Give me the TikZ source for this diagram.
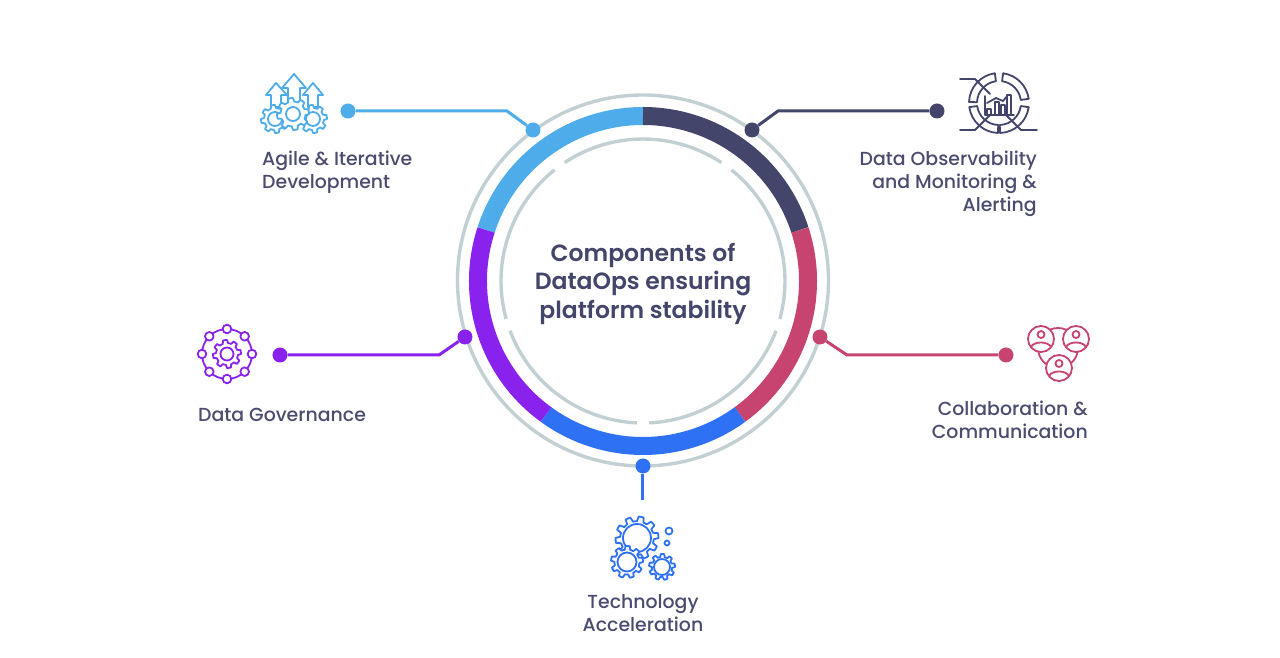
\documentclass[tikz,border=0pt]{standalone}
\usepackage{fontspec}
\setmainfont{Poppins Medium}[BoldFont={Poppins SemiBold}]
\definecolor{agilecol}{HTML}{4EACEB}
\definecolor{obscol}{HTML}{43456B}
\definecolor{collabcol}{HTML}{C6446F}
\definecolor{techcol}{HTML}{2F71F5}
\definecolor{govcol}{HTML}{8A22EE}
\definecolor{ringcol}{HTML}{C2D0D3}
\definecolor{textcol}{HTML}{4A4B6E}
\tikzset{
  dotnode/.style={circle,inner sep=0pt,minimum size=15pt,fill=#1},
  link/.style={line width=3pt,#1},
  labelnode/.style={inner sep=0pt,text=textcol,font=\fontsize{18.9}{23}\selectfont},
  icon/.style={line width=1.8pt,#1,line join=round,line cap=round},
}
% x, y, outer radius, teeth, style
\newcommand{\cogicon}[5]{%
  \filldraw[#5,fill=white] plot[domain=0:360,samples=8*#4+1]
    ({#1+(#3-0.22*#3+0.22*#3*(sin(#4*\x+22.5)>0?1:0))*cos(\x)},
     {#2+(#3-0.22*#3+0.22*#3*(sin(#4*\x+22.5)>0?1:0))*sin(\x)}) -- cycle;}
% person inside a circle
\newcommand{\personicon}[3]{%
  \begin{scope}[shift={(#1,#2)},icon=#3]
    \filldraw[fill=white] (0,0) circle (13);
    \draw (0,4.5) circle (3.5);
    \draw (-10,-8) .. controls (-7,-2) and (7,-2) .. (10,-8);
  \end{scope}}
\begin{document}
\begin{tikzpicture}[x=1pt,y=1pt]
  \useasboundingbox (-643,-377) rectangle (637,281);
  % rings
  \foreach \a in {270,342,54,126,198}
    \draw[ringcol,line width=3.4pt] ({\a+2.5}:142) arc ({\a+2.5}:{\a+69.5}:142);
  \draw[ringcol,line width=3.4pt] (0,0.5) circle (185.5);
  \foreach \from/\to/\col in {162/90/agilecol,90/18/obscol,18/-54/collabcol,-54/-126/techcol,-126/-198/govcol}
    \draw[line width=18pt,\col] (\from:165) arc (\from:\to:165);
  % title
  \node[text=obscol,align=center,font=\fontsize{23.5}{28.5}\selectfont\bfseries] (title) at (0,-2.5)
    {Components of\\DataOps ensuring\\platform stability};
  % connectors
  \node[dotnode=agilecol] (agilering) at (-110,151) {};
  \node[dotnode=agilecol] (agileend) at (-295,170) {};
  \coordinate (agilebend) at (-136,170);
  \draw[link=agilecol] (agileend) -- (agilebend) -- (agilering);
  \node[dotnode=obscol] (obsring) at (109,151) {};
  \node[dotnode=obscol] (obsend) at (294,170) {};
  \coordinate (obsbend) at (135,170);
  \draw[link=obscol] (obsend) -- (obsbend) -- (obsring);
  \node[dotnode=govcol] (govring) at (-178,-56) {};
  \node[dotnode=govcol] (govend) at (-363,-74) {};
  \coordinate (govbend) at (-204,-74);
  \draw[link=govcol] (govend) -- (govbend) -- (govring);
  \node[dotnode=collabcol] (collabring) at (177,-56) {};
  \node[dotnode=collabcol] (collabend) at (363,-74) {};
  \coordinate (collabbend) at (204,-74);
  \draw[link=collabcol] (collabend) -- (collabbend) -- (collabring);
  \node[dotnode=techcol] (techring) at (0,-185) {};
  \coordinate (techend) at (0,-219);
  \draw[link=techcol] (techring) -- (techend);
  % labels
  \node[labelnode,anchor=west,align=left] (agilelabel) at (-381,109) {Agile \& Iterative\\Development};
  \node[labelnode,anchor=east,align=right] (obslabel) at (394,97) {Data Observability\\and Monitoring \&\\Alerting};
  \node[labelnode,anchor=west] (govlabel) at (-445,-134) {Data Governance};
  \node[labelnode,anchor=east,align=right] (collablabel) at (445,-138.5) {Collaboration \&\\Communication};
  \node[labelnode,align=center] (techlabel) at (0,-332) {Technology\\Acceleration};
  % agile icon
  \begin{scope}[icon=agilecol]
    \filldraw[fill=white] (-372,174) -- (-372,186) -- (-377,186) -- (-367,198) -- (-356,186) -- (-362,186) -- (-362,174) -- cycle;
    \filldraw[fill=white] (-335,174) -- (-335,186) -- (-340,186) -- (-330,198) -- (-320,186) -- (-325,186) -- (-325,174) -- cycle;
    \filldraw[fill=white] (-355,176) -- (-355,193) -- (-361,193) -- (-349,207) -- (-337,193) -- (-343,193) -- (-343,176) -- cycle;
  \end{scope}
  \cogicon{-368}{162}{14}{8}{icon=agilecol}
  \draw[icon=agilecol] (-368,162) circle (7);
  \cogicon{-330}{162}{14}{8}{icon=agilecol}
  \draw[icon=agilecol] (-330,162) circle (7);
  \cogicon{-350}{167}{16}{8}{icon=agilecol}
  \draw[icon=agilecol] (-350,167) circle (7);
  % observability icon
  \begin{scope}[shift={(356,178)},icon=obscol]
    \foreach \from/\to in {8/82,98/178,188/268,272/352}
      \draw (\from:30) arc (\from:\to:30) -- (\to:22) arc (\to:\from:22) -- cycle;
    \draw (-39,24) -- (-24,24) -- (-9,9);
    \draw (-39,-27) -- (-24,-27) -- (-8,-11);
    \draw (38,-27) -- (22,-27) -- (6,-11);
    \draw (-14,7) -- (-14,-12) -- (15,-12);
    \draw (-12,-12) |- (-8,-6) -- (-8,-12);
    \draw (-4,-12) |- (0,1) -- (0,-12);
    \draw (2,-12) |- (6,-2) -- (6,-12);
    \draw (8,-12) |- (12,8) -- (12,-12);
    \draw (-12,0) -- (-3,5) -- (4,2) -- (9,8);
  \end{scope}
  % governance icon
  \begin{scope}[shift={(-416,-73)},icon=govcol]
    \foreach \a in {0,45,...,315} {
      \draw ({\a+11}:25) arc ({\a+11}:{\a+34}:25);
      \draw (\a:25) circle (4.3);
    }
  \end{scope}
  \cogicon{-416}{-73}{14}{8}{icon=govcol}
  \draw[icon=govcol] (-416,-73) circle (6.5);
  % collaboration icon
  \draw[icon=collabcol] (415,-67) circle (20);
  \personicon{398}{-58}{collabcol}
  \personicon{433}{-58}{collabcol}
  \personicon{416}{-87}{collabcol}
  % technology icon
  \cogicon{-6}{-257}{21.5}{10}{icon=techcol}
  \draw[icon=techcol] (-6,-257) circle (14);
  \cogicon{-16}{-281}{16}{9}{icon=techcol}
  \draw[icon=techcol] (-16,-281) circle (9.5);
  \cogicon{19}{-286}{13}{9}{icon=techcol}
  \draw[icon=techcol] (19,-286) circle (8);
  \draw[icon=techcol] (26,-250) circle (3.5);
  \draw[icon=techcol] (24,-262) circle (2.5);
\end{tikzpicture}
\end{document}
